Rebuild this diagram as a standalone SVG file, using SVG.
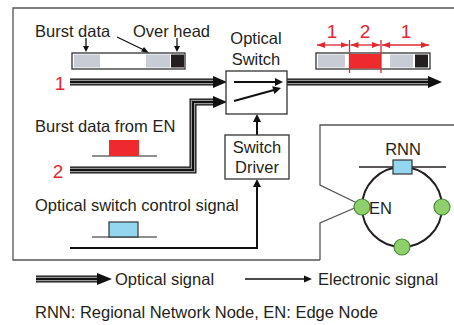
<svg xmlns="http://www.w3.org/2000/svg" width="454" height="325" viewBox="0 0 454 325">
<defs>
<style>
text{font-family:"Liberation Sans",Arial,sans-serif;fill:#231f20;font-size:16.5px}
.red{fill:#e0282e;font-size:19px}
.mid{text-anchor:middle}
.frame{fill:none;stroke:#555;stroke-width:1.3}
.o1{fill:none;stroke:#111;stroke-width:7}
.o2{fill:none;stroke:#999;stroke-width:4.5}
.o3{fill:none;stroke:#111;stroke-width:2}
.el{fill:none;stroke:#111;stroke-width:2}
.head{fill:#111}
.dim{stroke:#e0282e;stroke-width:1.3;fill:none}
.box{fill:#fff;stroke:#333;stroke-width:1.3}
.en{fill:#8fcf6c;stroke:#4b8a3a;stroke-width:1.2}
</style>
<marker id="ra" markerUnits="userSpaceOnUse" viewBox="0 0 8 8" refX="8" refY="4" markerWidth="8" markerHeight="8" orient="auto-start-reverse">
<path d="M0,1 L8,4 L0,7 z" fill="#e0282e"/>
</marker>
</defs>

<g id="frame">
<path class="frame" d="M320,260 H13 V8 H454"/>
<path class="frame" d="M320,260 V223 L357,207"/>
<path class="frame" d="M357,203 L320,185 V125 H454"/>
</g>

<g id="connectors">
<g id="optical1">
<path class="o1" d="M70,82 H214"/><path class="o2" d="M70,82 H214"/><path class="o3" d="M70,82 H214"/>
<polygon class="head" points="213,76 227,82 213,88"/>
</g>
<g id="optical2">
<path class="o1" d="M70,170 H193 V102 H214"/><path class="o2" d="M70,170 H193 V102 H214"/><path class="o3" d="M70,170 H193 V102 H214"/>
<polygon class="head" points="213,96 227,102 213,108"/>
</g>
<g id="optical-out">
<path class="o1" d="M287,82 H429"/><path class="o2" d="M287,82 H429"/><path class="o3" d="M287,82 H429"/>
<polygon class="head" points="428,76 442,82 428,88"/>
</g>
<g id="control">
<path class="el" d="M70,248 H257 V186"/>
<polygon class="head" points="253,187 257,179 261,187"/>
</g>
<g id="driver-to-switch">
<path class="el" d="M257,135 V121"/>
<polygon class="head" points="253,122 257,114 261,122"/>
</g>
<g id="burst-pointers">
<path d="M86,38 V47" stroke="#111" stroke-width="1.3"/>
<polygon class="head" points="83,46 86,52 89,46"/>
<path d="M117,37 L144,50" stroke="#111" stroke-width="1.3"/>
<polygon class="head" points="141,51.5 149,53 144,47"/>
<path d="M177,38 V47" stroke="#111" stroke-width="1.3"/>
<polygon class="head" points="174,46 177,52 180,46"/>
</g>
</g>

<g id="input-burst">
<rect class="box" x="72" y="53" width="113" height="16"/>
<rect x="74" y="54.5" width="26" height="13" fill="#c8ccd4"/>
<rect x="146" y="54.5" width="24" height="13" fill="#c8ccd4"/>
<rect x="171" y="54.5" width="13" height="13" fill="#231f20"/>
<text x="35" y="37">Burst data</text>
<text x="133" y="37">Over head</text>
<text class="red mid" x="60" y="90">1</text>
</g>

<g id="output-burst">
<rect class="box" x="316" y="53" width="114" height="16"/>
<rect x="318" y="54.5" width="27" height="13" fill="#c8ccd4"/>
<rect x="350" y="54" width="31" height="14.5" fill="#ee2a2e"/>
<rect x="390" y="54.5" width="23" height="13" fill="#c8ccd4"/>
<rect x="415" y="54.5" width="13" height="13" fill="#231f20"/>
<path class="dim" d="M349.5,40 V73 M381,40 V73"/>
<path class="dim" d="M317,45 H348.5" marker-start="url(#ra)" marker-end="url(#ra)"/>
<path class="dim" d="M350.5,45 H380" marker-start="url(#ra)" marker-end="url(#ra)"/>
<path class="dim" d="M382,45 H429" marker-start="url(#ra)" marker-end="url(#ra)"/>
<text class="red mid" x="332" y="38">1</text>
<text class="red mid" x="365" y="38">2</text>
<text class="red mid" x="406" y="38">1</text>
</g>

<g id="optical-switch">
<rect class="box" x="226" y="71" width="61" height="43"/>
<text class="mid" x="256" y="44">Optical</text>
<text class="mid" x="256" y="65">Switch</text>
<path class="el" d="M234,82 H276"/>
<polygon class="head" points="275,78 283,82 275,86"/>
<path class="el" d="M234,101 L274,90"/>
<polygon class="head" points="274.4,94 281,88 272.2,86.3"/>
</g>

<g id="switch-driver">
<rect class="box" x="225" y="135" width="64" height="44"/>
<text class="mid" x="257" y="153">Switch</text>
<text class="mid" x="257" y="173">Driver</text>
</g>

<g id="en-burst">
<text x="35" y="132">Burst data from EN</text>
<path d="M92,156 H157" stroke="#231f20" stroke-width="1.2"/>
<rect x="109" y="140" width="30" height="16" fill="#ee2a2e"/>
<text class="red mid" x="58" y="178">2</text>
</g>

<g id="control-signal">
<text x="35" y="211">Optical switch control signal</text>
<path d="M92,237 H157" stroke="#231f20" stroke-width="1.2"/>
<rect x="109" y="222" width="29" height="15" fill="#94d6ef" stroke="#333" stroke-width="1.2"/>
</g>

<g id="ring">
<circle cx="402" cy="207" r="40" fill="none" stroke="#231f20" stroke-width="2"/>
<path d="M359,167 H446" stroke="#231f20" stroke-width="1.5"/>
<rect x="393" y="160" width="19" height="14" fill="#94d6ef" stroke="#333" stroke-width="1.2"/>
<text class="mid" x="403" y="155">RNN</text>
<circle class="en" cx="362" cy="207" r="8"/>
<circle class="en" cx="442" cy="207" r="8"/>
<circle class="en" cx="402" cy="247" r="8"/>
<text x="369" y="214">EN</text>
</g>

<g id="legend">
<path class="o1" d="M36,279 H98"/><path class="o2" d="M36,279 H98"/><path class="o3" d="M36,279 H98"/>
<polygon class="head" points="97,273 112,279 97,285"/>
<text x="115" y="285">Optical signal</text>
<path d="M245,279 H305" stroke="#111" stroke-width="1.6"/>
<polygon class="head" points="304,275.5 312,279 304,282.5"/>
<text x="318" y="285">Electronic signal</text>
<text x="35" y="318">RNN: Regional Network Node, EN: Edge Node</text>
</g>
</svg>
